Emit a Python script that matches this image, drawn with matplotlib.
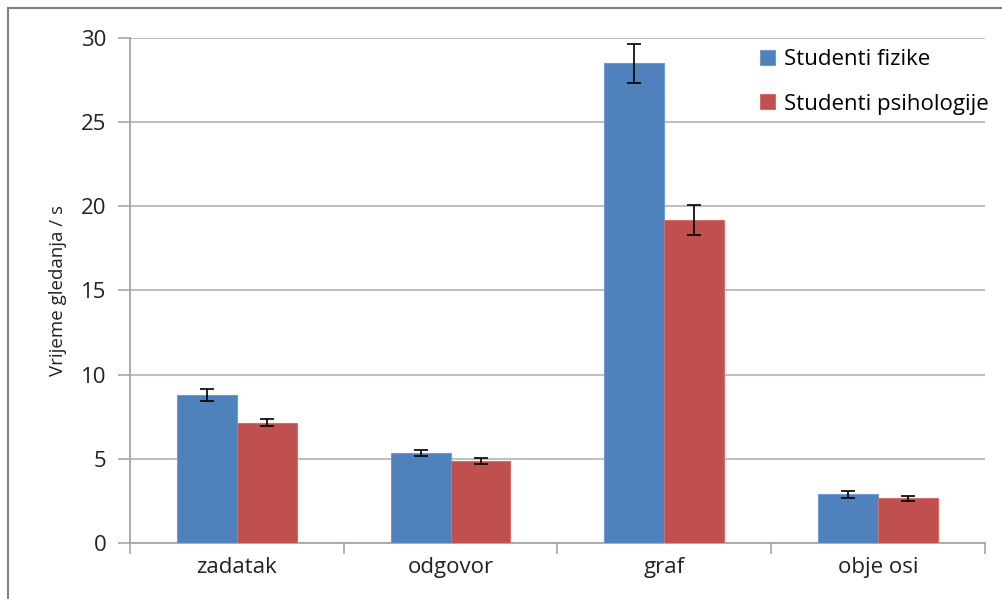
import matplotlib.pyplot as plt
import numpy as np
from matplotlib.patches import Rectangle

plt.rcParams['font.family'] = ['Open Sans', 'DejaVu Sans']

categories = ['zadatak', 'odgovor', 'graf', 'obje osi']
fizika = [8.8, 5.35, 28.5, 2.9]
fizika_err = [0.35, 0.2, 1.15, 0.2]
psiho = [7.15, 4.85, 19.2, 2.65]
psiho_err = [0.22, 0.18, 0.9, 0.17]

fig = plt.figure(figsize=(10.03, 5.99), dpi=100)
ax = fig.add_axes([0.1296, 0.0935, 0.8524, 0.8431])

x = np.arange(len(categories))
w = 0.28
err_kw = dict(ecolor='black', capsize=5, elinewidth=1.2, capthick=1.2)
ax.bar(x - w / 2, fizika, w, yerr=fizika_err, color='#4F81BD', edgecolor='#6E9BD0',
       linewidth=0.8, label='Studenti fizike', error_kw=err_kw, zorder=3)
ax.bar(x + w / 2, psiho, w, yerr=psiho_err, color='#C0504D', edgecolor='#D26F6C',
       linewidth=0.8, label='Studenti psihologije', error_kw=err_kw, zorder=3)

ax.set_xlim(-0.5, len(categories) - 0.5)
ax.set_ylim(0, 30)
ax.set_yticks(range(0, 31, 5))
ax.yaxis.grid(True, color='#BFBFBF', linewidth=1.5, zorder=0)
ax.set_axisbelow(True)

# category labels in the middle, tick marks on group boundaries
ax.set_xticks(x)
ax.set_xticklabels(categories, fontsize=16, color='#222222')
ax.tick_params(axis='x', length=0, pad=10)
ax.set_xticks(np.arange(-0.5, len(categories)), minor=True)
ax.tick_params(axis='x', which='minor', length=8, color='#A6A6A6', width=1.2, direction='out')
ax.tick_params(axis='y', labelsize=16, labelcolor='#222222', length=9, color='#A6A6A6',
               width=1.2, pad=8)

for s in ['top', 'right']:
    ax.spines[s].set_visible(False)
for s in ['left', 'bottom']:
    ax.spines[s].set_color('#A6A6A6')
    ax.spines[s].set_linewidth(1.3)

ax.set_ylabel('Vrijeme gledanja / s', fontsize=13.5, color='#222222', labelpad=10)

fig.legend(loc='upper left', bbox_to_anchor=(0.738, 0.951), frameon=False,
           fontsize=16, handlelength=0.65, handleheight=0.65, handletextpad=0.4,
           labelspacing=1.05)

# outer chart frame
fig.patches.append(Rectangle((8 / 1003, -0.1), 1.2, 1.1 - 8 / 599, transform=fig.transFigure,
                             fill=False, edgecolor='#808080', linewidth=1.5))

fig.savefig('out.png', dpi=100)
